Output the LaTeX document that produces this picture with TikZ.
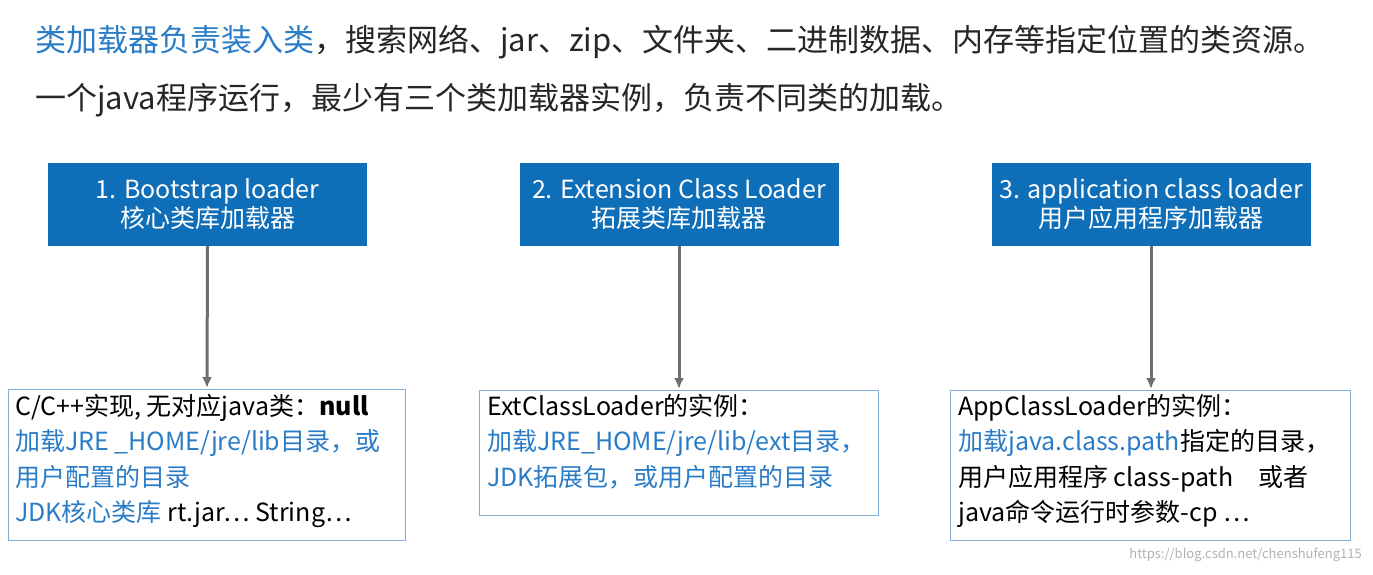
\documentclass[tikz,border=0pt]{standalone}
\usepackage{fontspec}
\setmainfont{Noto Sans CJK SC}
\definecolor{hdblue}{HTML}{0F6EB8}
\definecolor{txtblue}{HTML}{2A7CC7}
\definecolor{boxline}{HTML}{7FAEDB}
\definecolor{arrgray}{HTML}{6E6E6E}
\tikzset{
  loaderbox/.style={fill=hdblue, text=white, minimum width=319pt, minimum height=83pt,
    align=center, font=\fontsize{25pt}{29pt}\selectfont, inner sep=0pt},
  infobox/.style={draw=boxline, line width=1pt, anchor=north west, inner sep=0pt},
  infotext/.style={anchor=north west, align=left, font=\fontsize{25pt}{35.5pt}\selectfont, inner sep=0pt},
  link/.style={-{Latex[length=11pt,width=10pt]}, arrgray, line width=3pt}
}
\usetikzlibrary{arrows.meta}
\begin{document}
\begin{tikzpicture}[x=1pt, y=-1pt]
\useasboundingbox (0,0) rectangle (1373,574);

% heading
\node[anchor=west, inner sep=0pt, font=\fontsize{31pt}{36pt}\selectfont] (head1) at (35,42)
  {\textcolor{txtblue}{类加载器负责装入类}\textcolor{black!85}{，搜索网络、jar、zip、文件夹、二进制数据、内存等指定位置的类资源。}};
\node[anchor=west, inner sep=0pt, font=\fontsize{31pt}{36pt}\selectfont, text=black!85] (head2) at (35,100)
  {一个java程序运行，最少有三个类加载器实例，负责不同类的加载。};

% loaders
\node[loaderbox] (boot) at (207.5,204.5) {1. Bootstrap loader\\核心类库加载器};
\node[loaderbox] (ext) at (679,204.5) {2. Extension Class Loader\\拓展类库加载器};
\node[loaderbox] (app) at (1151,204.5) {3. application class loader\\用户应用程序加载器};

% descriptions
\draw[infobox] (8,389) rectangle (405,540);
\draw[infobox] (479,390) rectangle (878,515);
\draw[infobox] (950,390) rectangle (1350,540);
\coordinate (bootin) at (207,388);
\coordinate (extin) at (679,389);
\coordinate (appin) at (1151,389);

\node[infotext] (boottext) at (15,394) {\textcolor{black}{C/C++实现, 无对应java类：\textbf{null}}\\
  \textcolor{txtblue}{加载JRE \_HOME/jre/lib目录，或}\\
  \textcolor{txtblue}{用户配置的目录}\\
  \textcolor{txtblue}{JDK核心类库} rt.jar… String…};
\node[infotext] (exttext) at (487,394) {ExtClassLoader的实例：\\
  \textcolor{txtblue}{加载JRE\_HOME/jre/lib/ext目录，}\\
  \textcolor{txtblue}{JDK拓展包，或用户配置的目录}};
\node[infotext] (apptext) at (958,394) {AppClassLoader的实例：\\
  \textcolor{txtblue}{加载java.class.path}指定的目录，\\
  用户应用程序 class-path\quad 或者\\
  java命令运行时参数-cp …};

\draw[link] (boot.south) -- (bootin);
\draw[link] (ext.south) -- (extin);
\draw[link] (app.south) -- (appin);

\node[anchor=south east, inner sep=0pt, text=black!30, font=\fontsize{13pt}{15pt}\selectfont] (mark) at (1362,562) {https://blog.csdn.net/chenshufeng115};
\end{tikzpicture}
\end{document}
